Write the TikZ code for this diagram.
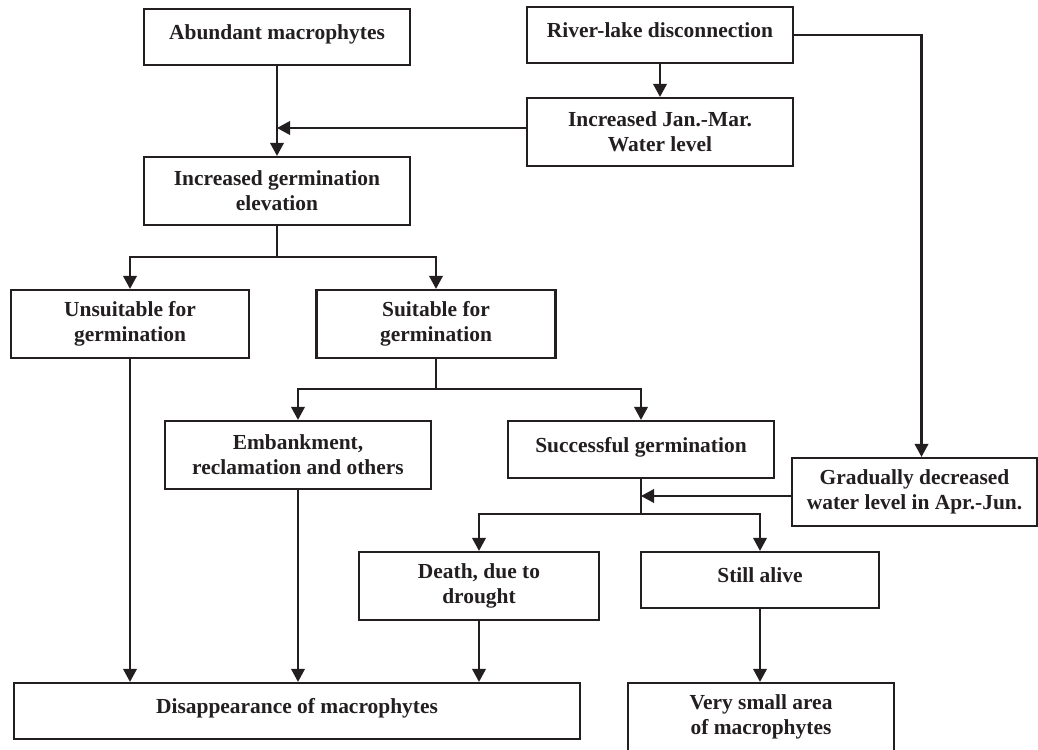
\documentclass[tikz,border=0pt]{standalone}
\usepackage{fontspec}
\setmainfont{Liberation Serif}
\usetikzlibrary{arrows.meta}
\definecolor{ink}{RGB}{35,31,32}

\begin{document}
\begin{tikzpicture}[x=0.02cm,y=-0.02cm,
    box/.style={draw=ink,line width=1.25pt,text=ink,align=center,inner sep=0pt,
        font=\fontsize{12.2pt}{14.2pt}\selectfont\bfseries},
    onebox/.style={box,text height=9pt,text depth=5.7pt},
    arr/.style={draw=ink,line width=1.2pt,-{Triangle[length=0.26cm,width=0.27cm]}},
    link/.style={draw=ink,line width=1.2pt}]
    \useasboundingbox (0,0) rectangle (1038,750);
    \clip (0,0) rectangle (1038,750);
    % Boxes
    \node[onebox,minimum width=5.32cm,minimum height=1.12cm] (abund) at (277,37) {Abundant macrophytes};
    \node[onebox,minimum width=5.32cm,minimum height=1.12cm] (river) at (660,35) {River-lake disconnection};
    \node[box,minimum width=5.32cm,minimum height=1.36cm] (janmar) at (660,132) {Increased Jan.-Mar.\\Water level};
    \node[box,minimum width=5.32cm,minimum height=1.36cm] (germ) at (277,191) {Increased germination\\elevation};
    \node[box,minimum width=4.76cm,minimum height=1.36cm] (unsuit) at (130,324) {Unsuitable for\\germination};
    \node[box,minimum width=4.78cm,minimum height=1.36cm] (suit) at (436,324) {Suitable for\\germination};
    \node[box,minimum width=5.32cm,minimum height=1.36cm] (embank) at (298,455) {Embankment,\\reclamation and others};
    \node[onebox,minimum width=5.32cm,minimum height=1.14cm] (success) at (641,449.5) {Successful germination};
    \node[box,minimum width=4.9cm,minimum height=1.36cm] (gradual) at (914.5,492) {Gradually decreased\\water level in Apr.-Jun.};
    \node[box,minimum width=4.8cm,minimum height=1.36cm] (death) at (479,586) {Death, due to\\drought};
    \node[onebox,minimum width=4.76cm,minimum height=1.12cm] (alive) at (760,580) {Still alive};
    \node[onebox,minimum width=11.32cm,minimum height=1.12cm] (disapp) at (297,711) {Disappearance of macrophytes};
    \node[box,minimum width=5.32cm,minimum height=1.36cm] (vsmall) at (761,717) {Very small area\\of macrophytes};
    % Split points
    \coordinate (gsplit) at (277,257);
    \coordinate (ssplit) at (436,389);
    \coordinate (csplit) at (641,514);
    \coordinate (jm) at ([yshift=0.08cm]janmar.west);
    \coordinate (gd) at ([yshift=-0.08cm]gradual.west);
    \coordinate (rv) at ([xshift=0.14cm]gradual.north);
    % Arrows
    \draw[arr] (abund.south) -- (germ.north);
    \draw[arr] (river.south) -- (janmar.north);
    \draw[arr] (jm) -- (jm -| abund.south);
    \draw[link] (germ.south) -- (gsplit);
    \draw[arr] (gsplit) -| (unsuit.north);
    \draw[arr] (gsplit) -| (suit.north);
    \draw[link] (suit.south) -- (ssplit);
    \draw[arr] (ssplit) -| (embank.north);
    \draw[arr] (ssplit) -| (success.north);
    \draw[arr] (river.east) -| (rv);
    \draw[arr] (gd) -- (gd -| success.south);
    \draw[link] (success.south) -- (csplit);
    \draw[arr] (csplit) -| (death.north);
    \draw[arr] (csplit) -| (alive.north);
    \draw[arr] (unsuit.south) -- (unsuit.south |- disapp.north);
    \draw[arr] (embank.south) -- (embank.south |- disapp.north);
    \draw[arr] (death.south) -- (death.south |- disapp.north);
    \draw[arr] (alive.south) -- (alive.south |- vsmall.north);
\end{tikzpicture}
\end{document}
